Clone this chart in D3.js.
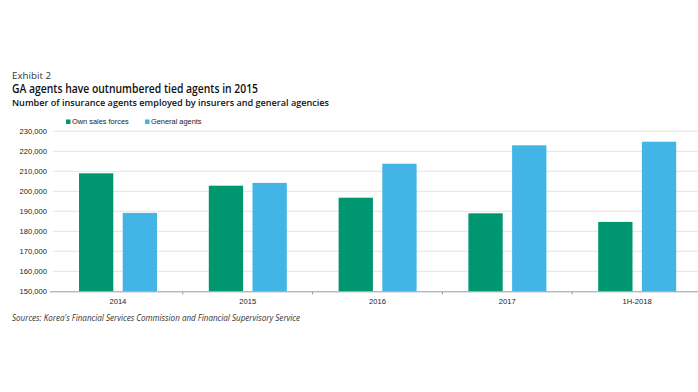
<!DOCTYPE html>
<html><head><meta charset="utf-8">
<script src="https://cdn.jsdelivr.net/npm/d3@7"></script>
<style>
body{margin:0;background:#fff;}
svg{display:block;}
</style></head>
<body>
<svg id="c" width="698" height="392"></svg>
<script>
const categories = ["2014","2015","2016","2017","1H-2018"];
const seriesNames = ["Own sales forces","General agents"];
const ownSalesForces = [209000, 202800, 196800, 189000, 184700];
const generalAgents = [189200, 204200, 213800, 223000, 224800];
const yTicks = [150000,160000,170000,180000,190000,200000,210000,220000,230000];
const colors = ["#00966f","#42b4e5"];

const svg = d3.select("#c");
const x0 = d3.scaleBand().domain(categories).range([53, 702]).padding(0);
const x1 = d3.scaleBand().domain(seriesNames).range([26, 104]).paddingInner(0.215).paddingOuter(0);
const y = d3.scaleLinear().domain([150000, 230000]).range([291.3, 131.3]);
const fmt = d3.format(",");

// gridlines
svg.append("g").selectAll("line").data(yTicks.slice(1)).join("line")
  .attr("x1",53).attr("x2",698).attr("y1",d=>y(d)).attr("y2",d=>y(d))
  .attr("stroke","#e3e3e3").attr("stroke-width",1);

// y axis labels
const yAxis = d3.axisLeft(y).tickValues(yTicks).tickFormat(fmt).tickSize(0).tickPadding(6);
const gy = svg.append("g").attr("transform","translate(53,0)").call(yAxis);
gy.select(".domain").remove();
gy.selectAll("text").attr("font-family","Liberation Sans, Arial, sans-serif").attr("font-size","7.6px").attr("fill","#222");

// bars
const data = categories.map((c,i)=>({c, vals:[ownSalesForces[i], generalAgents[i]]}));
const groups = svg.append("g").selectAll("g").data(data).join("g")
  .attr("transform", d=>`translate(${x0(d.c)},0)`);
groups.selectAll("rect").data(d=>d.vals.map((v,j)=>({s:seriesNames[j], v, j}))).join("rect")
  .attr("x", d=>x1(d.s)).attr("width", x1.bandwidth())
  .attr("y", d=>y(d.v)).attr("height", d=>y(150000)-y(d.v))
  .attr("fill", d=>colors[d.j]);

// x axis
const xAxis = d3.axisBottom(x0).tickSize(0).tickPadding(7);
const gx = svg.append("g").attr("transform","translate(0,291.3)").call(xAxis);
gx.select(".domain").attr("stroke","#9a9a9a").attr("d","M50,0.5H698");
gx.selectAll("text").attr("font-family","Liberation Sans, Arial, sans-serif").attr("font-size","7.6px").attr("fill","#222");
// boundary ticks
svg.append("g").selectAll("line").data(categories.slice(1)).join("line")
  .attr("x1",d=>x0(d)).attr("x2",d=>x0(d)).attr("y1",291.8).attr("y2",294.5)
  .attr("stroke","#9a9a9a");

// legend
const leg = svg.append("g").selectAll("g").data(seriesNames).join("g")
  .attr("transform",(d,i)=>`translate(${[66,145][i]},119)`);
leg.append("rect").attr("width",4.5).attr("height",4.5).attr("y",0.5).attr("fill",(d,i)=>colors[i]);
leg.append("text").attr("x",6).attr("y",5).text(d=>d)
  .attr("font-family","Liberation Sans, Arial, sans-serif").attr("font-size","7.4px").attr("fill","#222");

// titles
const ff = "Open Sans, Noto Sans, sans-serif";
svg.append("text").attr("x",12).attr("y",79).text("Exhibit 2")
  .attr("font-family",ff).attr("font-size","8.5px").attr("fill","#333")
  .attr("textLength",39).attr("lengthAdjust","spacingAndGlyphs");
svg.append("text").attr("x",12).attr("y",93).text("GA agents have outnumbered tied agents in 2015")
  .attr("font-family",ff).attr("font-size","11.8px").attr("font-weight",600).attr("fill","#111")
  .attr("textLength",246).attr("lengthAdjust","spacingAndGlyphs");
svg.append("text").attr("x",12).attr("y",106).text("Number of insurance agents employed by insurers and general agencies")
  .attr("font-family",ff).attr("font-size","9.6px").attr("font-weight",600).attr("fill","#111")
  .attr("textLength",317).attr("lengthAdjust","spacingAndGlyphs");
svg.append("text").attr("x",12).attr("y",321).text("Sources: Korea's Financial Services Commission and Financial Supervisory Service")
  .attr("font-family",ff).attr("font-size","8.4px").attr("font-style","italic").attr("fill","#333")
  .attr("textLength",288).attr("lengthAdjust","spacingAndGlyphs");
</script>
</body></html>
